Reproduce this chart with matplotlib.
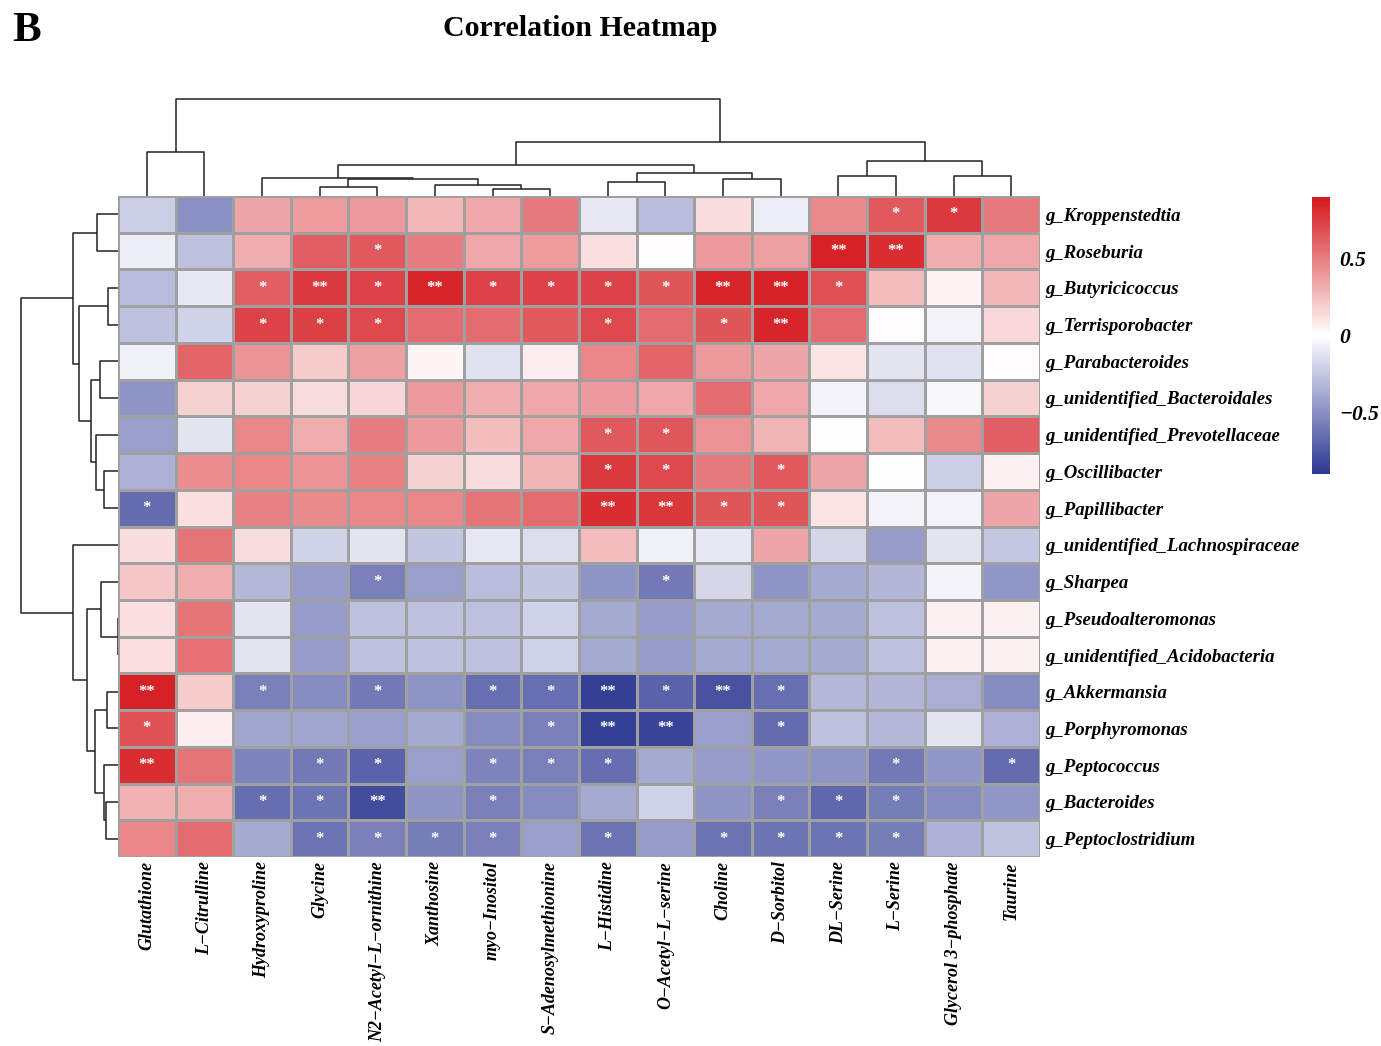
import numpy as np
import matplotlib
matplotlib.use("Agg")
from matplotlib import pyplot as plt
from matplotlib.colors import LinearSegmentedColormap

M = "\u2212"
rows = ["g_Kroppenstedtia", "g_Roseburia", "g_Butyricicoccus", "g_Terrisporobacter",
        "g_Parabacteroides", "g_unidentified_Bacteroidales", "g_unidentified_Prevotellaceae",
        "g_Oscillibacter", "g_Papillibacter", "g_unidentified_Lachnospiraceae", "g_Sharpea",
        "g_Pseudoalteromonas", "g_unidentified_Acidobacteria", "g_Akkermansia",
        "g_Porphyromonas", "g_Peptococcus", "g_Bacteroides", "g_Peptoclostridium"]
cols = ["Glutathione", "L" + M + "Citrulline", "Hydroxyproline", "Glycine",
        "N2" + M + "Acetyl" + M + "L" + M + "ornithine", "Xanthosine", "myo" + M + "Inositol",
        "S" + M + "Adenosylmethionine", "L" + M + "Histidine", "O" + M + "Acetyl" + M + "L" + M + "serine",
        "Choline", "D" + M + "Sorbitol", "DL" + M + "Serine", "L" + M + "Serine",
        "Glycerol 3" + M + "phosphate", "Taurine"]

# correlation values (rows top->bottom, cols left->right)
corr = [
    [-0.22, -0.50, 0.35, 0.38, 0.39, 0.28, 0.34, 0.52, -0.10, -0.30, 0.13, -0.08, 0.45, 0.64, 0.76, 0.52],
    [-0.08, -0.28, 0.32, 0.62, 0.64, 0.50, 0.34, 0.38, 0.12, 0.01, 0.39, 0.37, 0.86, 0.81, 0.32, 0.34],
    [-0.30, -0.10, 0.62, 0.76, 0.73, 0.84, 0.73, 0.73, 0.73, 0.66, 0.84, 0.86, 0.68, 0.26, 0.04, 0.28],
    [-0.28, -0.20, 0.73, 0.74, 0.71, 0.57, 0.57, 0.64, 0.71, 0.57, 0.66, 0.84, 0.57, 0.01, -0.05, 0.15],
    [-0.06, 0.60, 0.42, 0.20, 0.37, 0.04, -0.13, 0.07, 0.47, 0.60, 0.40, 0.35, 0.10, -0.12, -0.13, 0.01],
    [-0.48, 0.18, 0.18, 0.14, 0.16, 0.39, 0.32, 0.34, 0.39, 0.34, 0.57, 0.34, -0.05, -0.15, -0.03, 0.18],
    [-0.43, -0.12, 0.47, 0.32, 0.50, 0.39, 0.26, 0.34, 0.64, 0.65, 0.42, 0.29, 0.00, 0.26, 0.45, 0.62],
    [-0.35, 0.44, 0.47, 0.42, 0.49, 0.18, 0.14, 0.29, 0.77, 0.71, 0.52, 0.64, 0.35, 0.00, -0.22, 0.06],
    [-0.66, 0.12, 0.49, 0.45, 0.47, 0.47, 0.54, 0.57, 0.81, 0.78, 0.66, 0.66, 0.10, -0.05, -0.05, 0.35],
    [0.13, 0.54, 0.14, -0.20, -0.12, -0.26, -0.10, -0.15, 0.26, -0.06, -0.10, 0.35, -0.18, -0.45, -0.12, -0.25],
    [0.22, 0.32, -0.32, -0.45, -0.57, -0.43, -0.30, -0.26, -0.48, -0.60, -0.18, -0.48, -0.38, -0.33, -0.05, -0.47],
    [0.12, 0.54, -0.12, -0.45, -0.28, -0.28, -0.28, -0.20, -0.38, -0.45, -0.38, -0.38, -0.38, -0.28, 0.05, 0.05],
    [0.12, 0.55, -0.12, -0.45, -0.28, -0.28, -0.28, -0.20, -0.38, -0.45, -0.38, -0.38, -0.38, -0.28, 0.05, 0.05],
    [0.86, 0.20, -0.57, -0.52, -0.60, -0.48, -0.64, -0.64, -0.86, -0.70, -0.78, -0.64, -0.32, -0.33, -0.36, -0.52],
    [0.67, 0.07, -0.40, -0.40, -0.43, -0.38, -0.52, -0.57, -0.86, -0.84, -0.43, -0.66, -0.28, -0.32, -0.12, -0.35],
    [0.81, 0.54, -0.55, -0.60, -0.70, -0.43, -0.55, -0.57, -0.65, -0.38, -0.45, -0.47, -0.48, -0.60, -0.47, -0.66],
    [0.30, 0.32, -0.65, -0.62, -0.80, -0.48, -0.57, -0.52, -0.38, -0.20, -0.48, -0.57, -0.68, -0.58, -0.52, -0.47],
    [0.47, 0.57, -0.38, -0.62, -0.57, -0.58, -0.57, -0.43, -0.63, -0.45, -0.63, -0.62, -0.62, -0.58, -0.35, -0.27],
]

# significance marks
stars = [
    ["", "", "", "", "", "", "", "", "", "", "", "", "", "*", "*", ""],
    ["", "", "", "", "*", "", "", "", "", "", "", "", "**", "**", "", ""],
    ["", "", "*", "**", "*", "**", "*", "*", "*", "*", "**", "**", "*", "", "", ""],
    ["", "", "*", "*", "*", "", "", "", "*", "", "*", "**", "", "", "", ""],
    ["", "", "", "", "", "", "", "", "", "", "", "", "", "", "", ""],
    ["", "", "", "", "", "", "", "", "", "", "", "", "", "", "", ""],
    ["", "", "", "", "", "", "", "", "*", "*", "", "", "", "", "", ""],
    ["", "", "", "", "", "", "", "", "*", "*", "", "*", "", "", "", ""],
    ["*", "", "", "", "", "", "", "", "**", "**", "*", "*", "", "", "", ""],
    ["", "", "", "", "", "", "", "", "", "", "", "", "", "", "", ""],
    ["", "", "", "", "*", "", "", "", "", "*", "", "", "", "", "", ""],
    ["", "", "", "", "", "", "", "", "", "", "", "", "", "", "", ""],
    ["", "", "", "", "", "", "", "", "", "", "", "", "", "", "", ""],
    ["**", "", "*", "", "*", "", "*", "*", "**", "*", "**", "*", "", "", "", ""],
    ["*", "", "", "", "", "", "", "*", "**", "**", "", "*", "", "", "", ""],
    ["**", "", "", "*", "*", "", "*", "*", "*", "", "", "", "", "*", "", "*"],
    ["", "", "*", "*", "**", "", "*", "", "", "", "", "*", "*", "*", "", ""],
    ["", "", "", "*", "*", "*", "*", "", "*", "", "*", "*", "*", "*", "", ""],
]

# cluster trees: (left, right, height), leaves are indices
col_tree = (((0, 1, 44),
             (((2, ((3, 4, 9), (5, (6, 7, 7), 11), 17), 18),
               ((8, 9, 14), (10, 11, 17), 23), 31),
              ((12, 13, 20), (14, 15, 20), 35), 54), 97))
row_tree = (((0, 1, 21),
             ((2, 3, 10),
              ((4, 5, 18), (6, (7, 8, 14), 22), 27), 39), 45),
            (9,
             ((10, (11, 12, 0.5), 17),
              ((13, 14, 11), (15, (16, 17, 12.5), 14), 23), 31), 45), 97)

plt.rcParams["font.family"] = "Liberation Serif"
W, H = 1381, 1046
fig = plt.figure(figsize=(W / 100, H / 100), dpi=100)


def box(x0, y0, x1, y1):
    return [x0 / W, 1 - y1 / H, (x1 - x0) / W, (y1 - y0) / H]


def draw_tree(ax, node, vertical):
    # returns (position, height) of node; draws U links
    if isinstance(node, int):
        return node + 0.5, 0
    l, r, h = node
    pl, hl = draw_tree(ax, l, vertical)
    pr, hr = draw_tree(ax, r, vertical)
    xs = [pl, pl, pr, pr]
    ys = [hl, h, h, hr]
    if vertical:
        ax.plot(xs, ys, color="#222222", lw=1.1, solid_capstyle="butt")
    else:
        ax.plot(ys, xs, color="#222222", lw=1.1, solid_capstyle="butt")
    return (pl + pr) / 2, h


cmap = LinearSegmentedColormap.from_list("rb", ["#2C3792", "#FFFFFF", "#D4181D"])
data = np.array(corr)
nr, nc = data.shape

ax = fig.add_axes(box(118, 196, 1040, 857))
mesh = ax.pcolormesh(np.arange(nc + 1), np.arange(nr + 1), data, cmap=cmap, vmin=-0.9, vmax=0.9,
                     edgecolors="#a0a0a0", linewidth=0.9)
ax.set_xlim(0, nc)
ax.set_ylim(nr, 0)
for i in range(nr):
    for j in range(nc):
        if stars[i][j]:
            ax.text(j + 0.5, i + 0.5, stars[i][j], color="white", ha="center", va="center",
                    fontsize=12, fontweight="bold")
ax.set_xticks(np.arange(nc) + 0.5)
ax.set_xticklabels(cols, rotation=90, fontsize=13, fontweight="bold", style="italic", va="top")
ax.set_yticks(np.arange(nr) + 0.5)
ax.set_yticklabels(rows, fontsize=13.5, fontweight="bold", style="italic")
ax.yaxis.tick_right()
ax.tick_params(axis="y", length=0, pad=4)
ax.tick_params(axis="x", length=0, pad=3)
for s in ax.spines.values():
    s.set_visible(False)

# column dendrogram
axc = fig.add_axes(box(118, 96, 1040, 196))
draw_tree(axc, col_tree, True)
axc.set_xlim(0, nc)
axc.set_ylim(0, 100)
axc.axis("off")

# row dendrogram
axr = fig.add_axes(box(18, 196, 118, 857))
draw_tree(axr, row_tree, False)
axr.set_ylim(nr, 0)
axr.set_xlim(100, 0)
axr.axis("off")

# colorbar
cax = fig.add_axes(box(1312, 197, 1330, 474))
cb = fig.colorbar(mesh, cax=cax)
cb.outline.set_visible(False)
cb.set_ticks([-0.5, 0, 0.5])
cb.set_ticklabels([M + "0.5", "0", "0.5"])
cax.tick_params(length=0, pad=7)
for t in cax.get_yticklabels():
    t.set_fontsize(15.5)
    t.set_fontweight("bold")
    t.set_fontstyle("italic")

fig.text(580 / W, 1 - 29 / H, "Correlation Heatmap", ha="center", va="center",
         fontsize=21.5, fontweight="bold")
fig.text(12 / W, 1 - 31 / H, "B", ha="left", va="center", fontsize=31, fontweight="bold")

fig.savefig("out.png", dpi=100)
